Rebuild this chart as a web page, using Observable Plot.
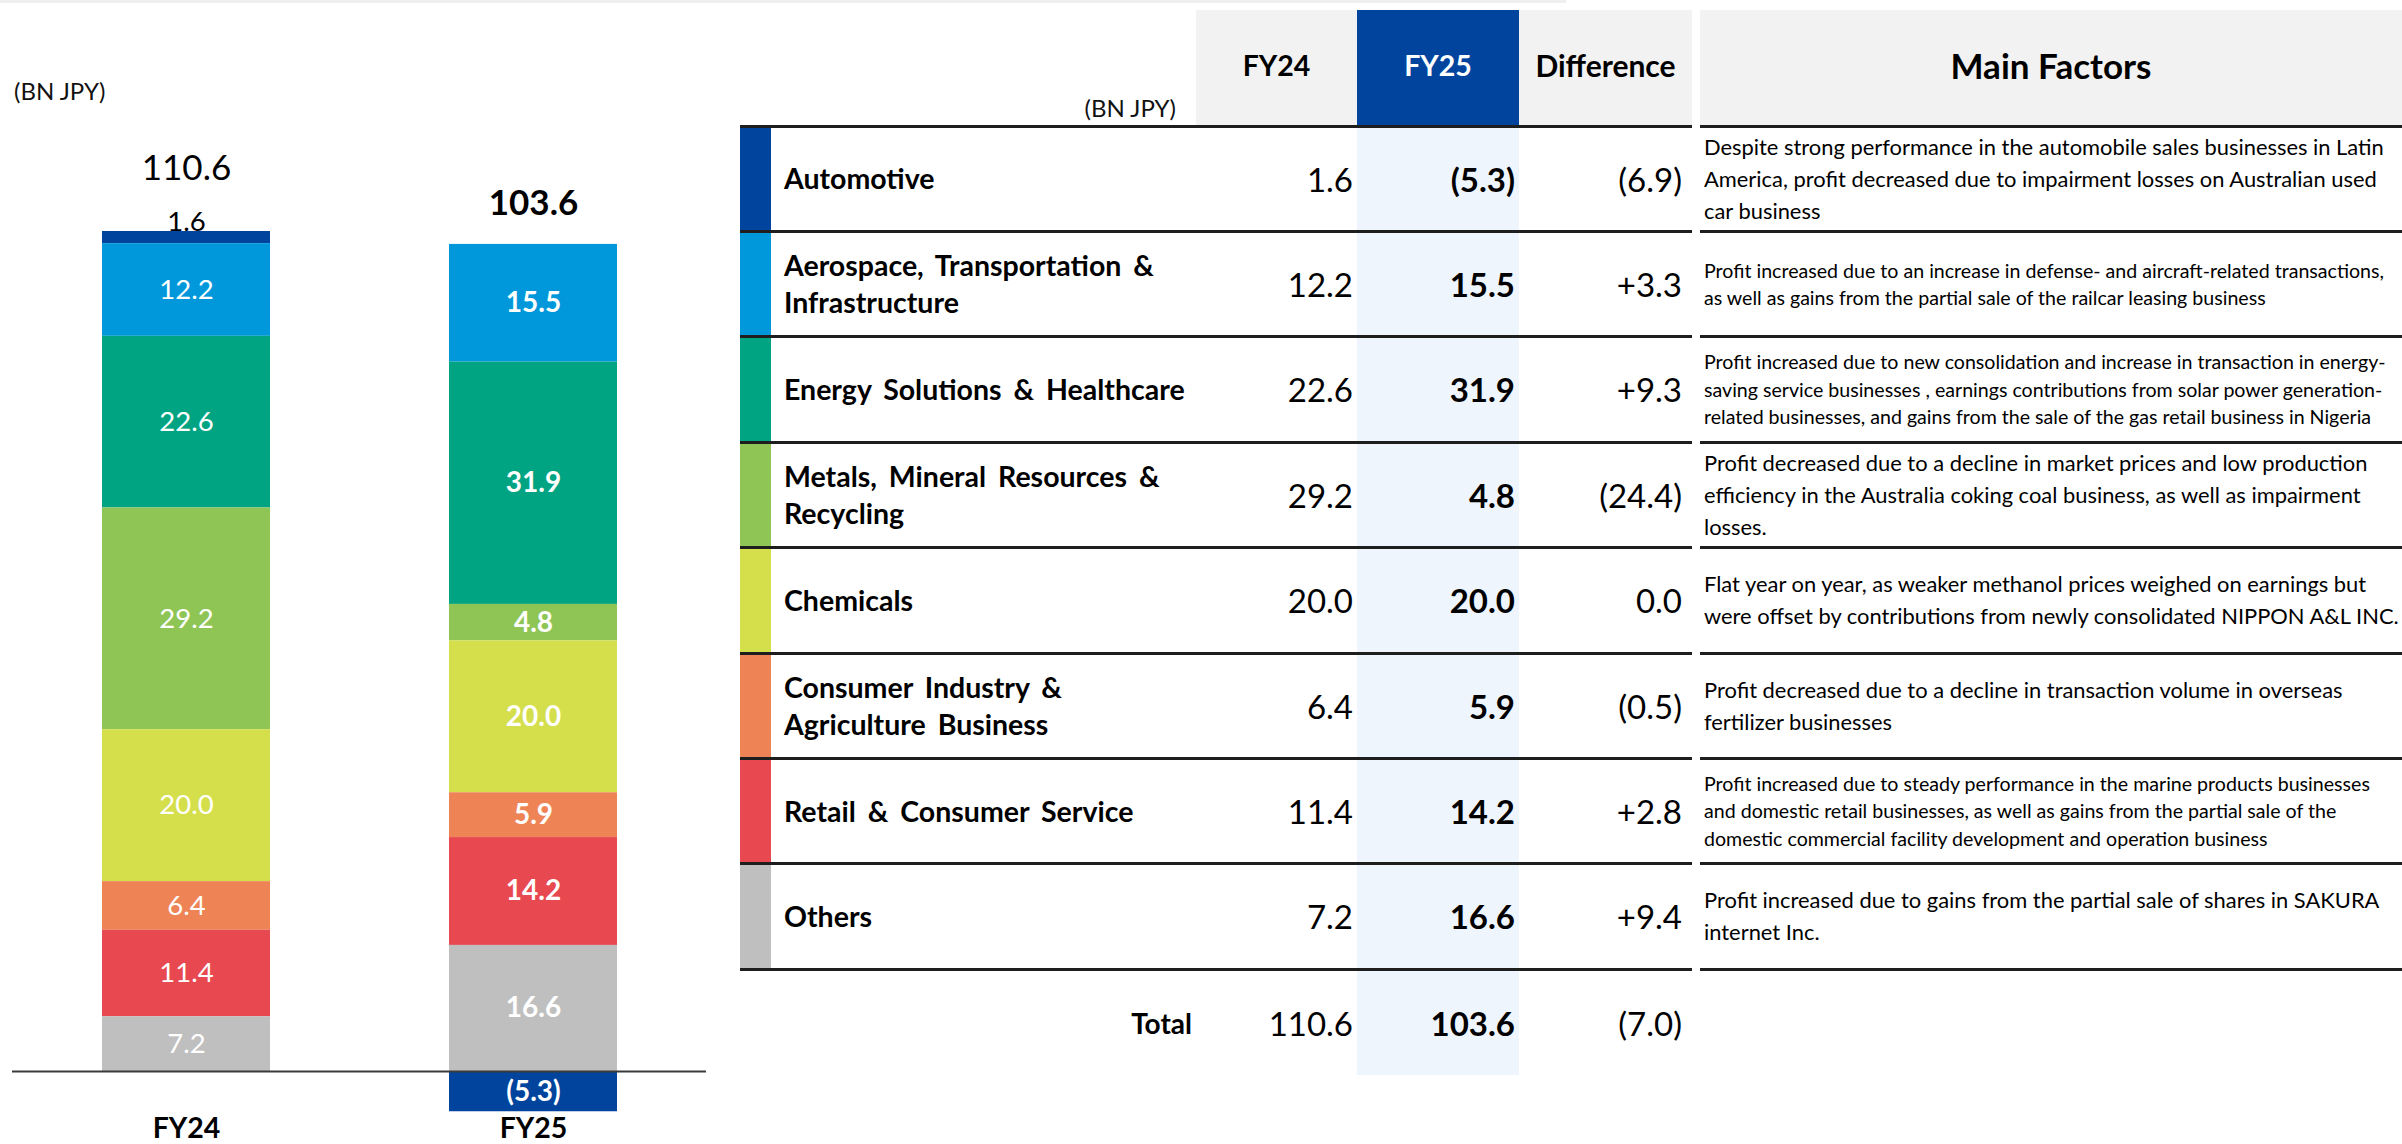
<!DOCTYPE html>
<html>
<head>
<meta charset="utf-8">
<script src="https://cdn.jsdelivr.net/npm/d3@7"></script>
<script src="https://cdn.jsdelivr.net/npm/@observablehq/plot@0.6"></script>
<style>
  html, body { margin: 0; padding: 0; background: #fff; }
  #page { position: relative; width: 2402px; height: 1144px; overflow: hidden; font-family: Lato, "Noto Sans", sans-serif; color: #000; }
  #page > div { position: absolute; box-sizing: border-box; }
  .num { font-variant-numeric: tabular-nums; }
</style>
</head>
<body>
<div id="page"></div>
<script>
// ---------------- DATA ----------------
const years = ["FY24", "FY25"];
const segments = [
  "Automotive",
  "Aerospace, Transportation & Infrastructure",
  "Energy Solutions & Healthcare",
  "Metals, Mineral Resources & Recycling",
  "Chemicals",
  "Consumer Industry & Agriculture Business",
  "Retail & Consumer Service",
  "Others"
];
const segmentLabels = [
  "Automotive",
  "Aerospace, Transportation &\nInfrastructure",
  "Energy Solutions & Healthcare",
  "Metals, Mineral Resources &\nRecycling",
  "Chemicals",
  "Consumer Industry &\nAgriculture Business",
  "Retail & Consumer Service",
  "Others"
];
const fy24 = [1.6, 12.2, 22.6, 29.2, 20.0, 6.4, 11.4, 7.2];
const fy25 = [-5.3, 15.5, 31.9, 4.8, 20.0, 5.9, 14.2, 16.6];
const difference = [-6.9, 3.3, 9.3, -24.4, 0.0, -0.5, 2.8, 9.4];
const totals = [110.6, 103.6];
const totalDifference = -7.0;
const unitLabel = "(BN JPY)";
const headers = ["FY24", "FY25", "Difference", "Main Factors"];
const totalLabel = "Total";
const factors = [
  "Despite strong performance in the automobile sales businesses in Latin\nAmerica, profit decreased due to impairment losses on Australian used\ncar business",
  "Profit increased due to an increase in defense- and aircraft-related transactions,\nas well as gains from the partial sale of the railcar leasing business",
  "Profit increased due to new consolidation and increase in transaction in energy-\nsaving service businesses , earnings contributions from solar power generation-\nrelated businesses, and gains from the sale of the gas retail business in Nigeria",
  "Profit decreased due to a decline in market prices and low production\nefficiency in the Australia coking coal business, as well as impairment\nlosses.",
  "Flat year on year, as weaker methanol prices weighed on earnings but\nwere offset by contributions from newly consolidated NIPPON A&L INC.",
  "Profit decreased due to a decline in transaction volume in overseas\nfertilizer businesses",
  "Profit increased due to steady performance in the marine products businesses\nand domestic retail businesses, as well as gains from the partial sale of the\ndomestic commercial facility development and operation business",
  "Profit increased due to gains from the partial sale of shares in SAKURA\ninternet Inc."
];

// ---------------- STYLE ----------------
const colors = ["#00449E", "#0098DA", "#00A482", "#8FC555", "#D5DE4B", "#EE8456", "#E8484F", "#BFBFBF"];
const factorFont = ["normal", "small", "small", "normal", "normal", "normal", "small", "normal"];
const factorStyle = {normal: {size: 21.9, lh: 32}, small: {size: 19.6, lh: 27.5}};

// ---------------- HELPERS ----------------
const fmt = v => v < 0 ? `(${(-v).toFixed(1)})` : v.toFixed(1);
const fmtDiff = v => v > 0 ? `+${v.toFixed(1)}` : v === 0 ? "0.0" : `(${(-v).toFixed(1)})`;
const page = document.getElementById("page");
function box(css, text, cls) {
  const d = document.createElement("div");
  d.style.cssText = css;
  if (cls) d.className = cls;
  if (text != null) d.textContent = text;
  page.appendChild(d);
  return d;
}

// ---------------- LEFT: STACKED BARS ----------------
const values = [fy24, fy25];
const barData = [];
years.forEach((yr, j) => segments.forEach((s, i) => barData.push({year: yr, segment: s, value: values[j][i]})));
const stackOrder = segments.slice().reverse(); // bottom → top
const fy24Data = barData.filter(d => d.year === years[0]);
const fy25Data = barData.filter(d => d.year === years[1]);
const totalData = years.map((yr, j) => ({year: yr, total: totals[j], top: d3.sum(values[j].filter(v => v > 0))}));

const chart = Plot.plot({
  width: 720,
  height: 1144,
  marginLeft: 12, marginRight: 14, marginTop: 0, marginBottom: 73,
  style: {fontFamily: "Lato, 'Noto Sans', sans-serif", background: "transparent", overflow: "visible"},
  x: {domain: years, range: [12, 706], paddingInner: 0.517, paddingOuter: 0.2585, label: null},
  y: {domain: [0, totals[0]], range: [1071, 231], axis: null},
  color: {domain: segments, range: colors},
  marks: [
    Plot.barY(barData, Plot.stackY({x: "year", y: "value", fill: "segment", order: stackOrder})),
    Plot.ruleY([0], {stroke: "#3a3a3a", strokeWidth: 2}),
    Plot.text(fy24Data, Plot.stackY({
      x: "year", y: "value", z: "segment", order: stackOrder,
      text: d => d.segment === segments[0] ? "" : fmt(d.value),
      fill: "white", fontSize: 27.5
    })),
    Plot.text(fy24Data, Plot.stackY2({
      x: "year", y: "value", z: "segment", order: stackOrder,
      text: d => d.segment === segments[0] ? fmt(d.value) : "",
      fill: "black", fontSize: 27.5, dy: -9
    })),
    Plot.text(fy25Data, Plot.stackY({
      x: "year", y: "value", z: "segment", order: stackOrder,
      text: d => fmt(d.value),
      fill: "white", fontSize: 28, fontWeight: "bold"
    })),
    Plot.text(totalData.filter(d => d.year === years[0]), {x: "year", y: "top", text: d => fmt(d.total), fontSize: 35, dy: -63, fill: "black"}),
    Plot.text(totalData.filter(d => d.year === years[1]), {x: "year", y: "top", text: d => fmt(d.total), fontSize: 35, fontWeight: "bold", dy: -41, fill: "black"}),
    Plot.axisX({tickSize: 0, tickPadding: 46, fontSize: 28.5, fontWeight: "bold", label: null, color: "black"})
  ]
});
chart.style.position = "absolute";
chart.style.left = "0px";
chart.style.top = "0px";
page.appendChild(chart);

box("left:14px;top:75px;font-size:24px;line-height:32px;color:#111;", unitLabel);

// ---------------- RIGHT: TABLE ----------------
const L = {
  headTop: 10, headBottom: 125, rowTop: 126, rowH: 105.4,
  strip: [740, 771], labelX: 784,
  c24: [1196, 1357], c25: [1357, 1519], cd: [1519, 1692], cf: [1700, 2402],
  totalH: 108
};
const nRows = segments.length;
const rowsBottom = L.rowTop + nRows * L.rowH;

// faint top line
box(`left:0px;top:0px;width:1566px;height:3px;background:#efefef;`);

// header cells
box(`left:${L.c24[0]}px;top:${L.headTop}px;width:${L.c24[1]-L.c24[0]}px;height:${L.headBottom-L.headTop}px;background:#F2F2F2;`);
box(`left:${L.c25[0]}px;top:${L.headTop}px;width:${L.c25[1]-L.c25[0]}px;height:${L.headBottom-L.headTop}px;background:#00449E;`);
box(`left:${L.cd[0]}px;top:${L.headTop}px;width:${L.cd[1]-L.cd[0]}px;height:${L.headBottom-L.headTop}px;background:#F2F2F2;`);
box(`left:${L.cf[0]}px;top:${L.headTop}px;width:${L.cf[1]-L.cf[0]}px;height:${L.headBottom-L.headTop}px;background:#F2F2F2;`);
const headCols = [L.c24, L.c25, L.cd, L.cf];
const headSize = [28.5, 28.5, 30, 35];
headers.forEach((h, k) => {
  const c = headCols[k];
  box(`left:${c[0]}px;top:${L.headTop}px;width:${c[1]-c[0]}px;height:${L.headBottom-L.headTop-6}px;display:flex;align-items:center;justify-content:center;font-weight:700;font-size:${headSize[k]}px;color:${k === 1 ? "#fff" : "#000"};`, h);
});
box(`left:880px;top:92px;width:296px;text-align:right;font-size:24px;line-height:32px;color:#111;`, unitLabel);

// FY25 light-blue column
box(`left:${L.c25[0]}px;top:${L.rowTop}px;width:${L.c25[1]-L.c25[0]}px;height:${rowsBottom + L.totalH - L.rowTop - 2}px;background:#EEF5FD;`);

// rows
segments.forEach((s, i) => {
  const y0 = L.rowTop + i * L.rowH;
  box(`left:${L.strip[0]}px;top:${y0}px;width:${L.strip[1]-L.strip[0]}px;height:${L.rowH}px;background:${colors[i]};`);
  box(`left:${L.labelX}px;top:${y0}px;width:420px;height:${L.rowH}px;display:flex;align-items:center;white-space:pre-line;font-weight:700;font-size:28.5px;word-spacing:5px;line-height:37px;`, segmentLabels[i]);
  box(`left:${L.c24[0]}px;top:${y0}px;width:${L.c24[1]-L.c24[0]-4}px;height:${L.rowH}px;display:flex;align-items:center;justify-content:flex-end;font-size:33px;`, fmt(fy24[i]), "num");
  box(`left:${L.c25[0]}px;top:${y0}px;width:${L.c25[1]-L.c25[0]-4}px;height:${L.rowH}px;display:flex;align-items:center;justify-content:flex-end;font-size:33px;font-weight:700;`, fmt(fy25[i]), "num");
  box(`left:${L.cd[0]}px;top:${y0}px;width:${L.cd[1]-L.cd[0]-10}px;height:${L.rowH}px;display:flex;align-items:center;justify-content:flex-end;font-size:33px;`, fmtDiff(difference[i]), "num");
  const fs = factorStyle[factorFont[i]];
  box(`left:${L.cf[0]+4}px;top:${y0}px;width:${L.cf[1]-L.cf[0]+40}px;height:${L.rowH}px;display:flex;align-items:center;white-space:pre;font-size:${fs.size}px;line-height:${fs.lh}px;`, factors[i]);
});

// horizontal lines
for (let i = 0; i <= nRows; i++) {
  const y = L.rowTop + i * L.rowH - 1.5;
  box(`left:${L.strip[0]}px;top:${y}px;width:${L.cd[1]-L.strip[0]}px;height:3px;background:#1e1e1e;`);
  box(`left:${L.cf[0]}px;top:${y}px;width:${L.cf[1]-L.cf[0]}px;height:3px;background:#1e1e1e;`);
}

// total row
const ty = rowsBottom;
box(`left:900px;top:${ty}px;width:292px;height:${L.totalH}px;display:flex;align-items:center;justify-content:flex-end;font-weight:700;font-size:28px;`, totalLabel);
box(`left:${L.c24[0]}px;top:${ty}px;width:${L.c24[1]-L.c24[0]-4}px;height:${L.totalH}px;display:flex;align-items:center;justify-content:flex-end;font-size:33px;`, fmt(totals[0]), "num");
box(`left:${L.c25[0]}px;top:${ty}px;width:${L.c25[1]-L.c25[0]-4}px;height:${L.totalH}px;display:flex;align-items:center;justify-content:flex-end;font-size:33px;font-weight:700;`, fmt(totals[1]), "num");
box(`left:${L.cd[0]}px;top:${ty}px;width:${L.cd[1]-L.cd[0]-10}px;height:${L.totalH}px;display:flex;align-items:center;justify-content:flex-end;font-size:33px;`, fmtDiff(totalDifference), "num");
</script>
</body>
</html>
